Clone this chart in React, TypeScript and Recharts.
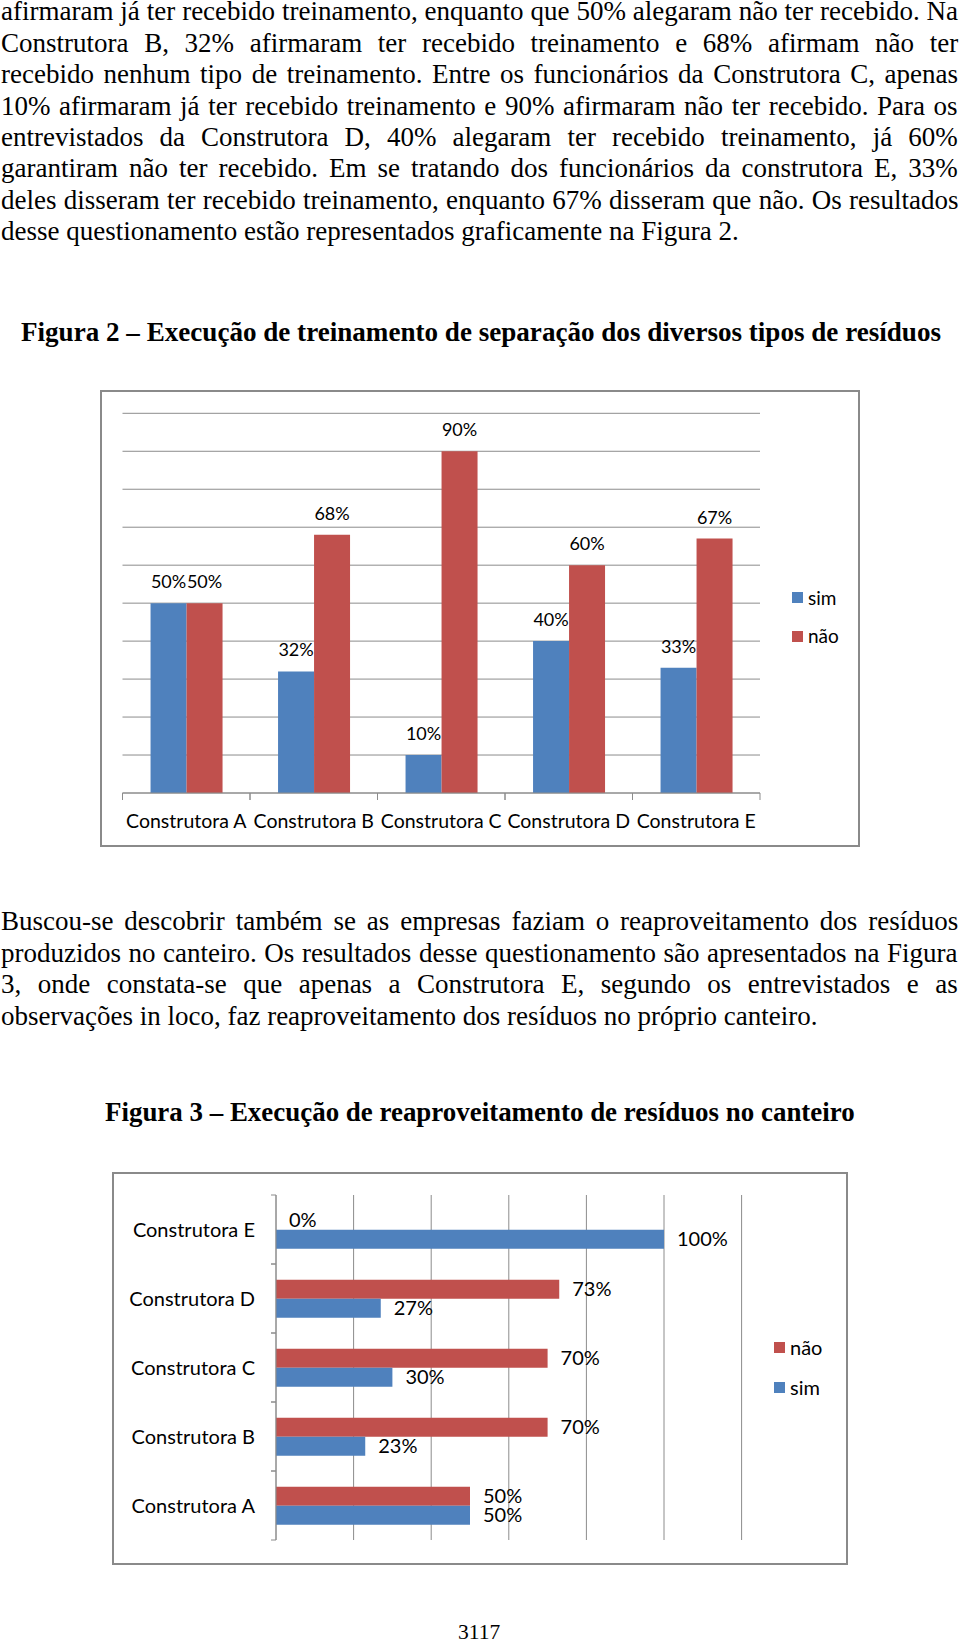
import React, { useLayoutEffect, useRef, useState } from 'react';
import { BarChart, Bar, XAxis, YAxis, CartesianGrid, Legend, LabelList } from 'recharts';

// page text
const paragraph1 = [
  'afirmaram já ter recebido treinamento, enquanto que 50% alegaram não ter recebido. Na',
  'Construtora B, 32% afirmaram ter recebido treinamento e 68% afirmam não ter',
  'recebido nenhum tipo de treinamento. Entre os funcionários da Construtora C, apenas',
  '10% afirmaram já ter recebido treinamento e 90% afirmaram não ter recebido. Para os',
  'entrevistados da Construtora D, 40% alegaram ter recebido treinamento, já 60%',
  'garantiram não ter recebido. Em se tratando dos funcionários da construtora E, 33%',
  'deles disseram ter recebido treinamento, enquanto 67% disseram que não. Os resultados',
  'desse questionamento estão representados graficamente na Figura 2.',
];
const paragraph2 = [
  'Buscou-se descobrir também se as empresas faziam o reaproveitamento dos resíduos',
  'produzidos no canteiro. Os resultados desse questionamento são apresentados na Figura',
  '3, onde constata-se que apenas a Construtora E, segundo os entrevistados e as',
  'observações in loco, faz reaproveitamento dos resíduos no próprio canteiro.',
];
const caption2 = 'Figura 2 – Execução de treinamento de separação dos diversos tipos de resíduos';
const caption3 = 'Figura 3 – Execução de reaproveitamento de resíduos no canteiro';
const pageNumber = '3117';

// chart data
const construtoras = ['Construtora A', 'Construtora B', 'Construtora C', 'Construtora D', 'Construtora E'];
const treinamentoSim = [50, 32, 10, 40, 33];
const treinamentoNao = [50, 68, 90, 60, 67];
const reaproveitamentoSim = [50, 23, 30, 27, 100];
const reaproveitamentoNao = [50, 70, 70, 73, 0];
const fig2Ticks = [0, 10, 20, 30, 40, 50, 60, 70, 80, 90, 100];
const fig3Ticks = [0, 20, 40, 60, 80, 100, 120];
const fig2LegendOrder = ['sim', 'não'];
const fig3LegendOrder = ['não', 'sim'];

const fig2Data = construtoras.map((name, i) => ({ name, sim: treinamentoSim[i], nao: treinamentoNao[i] }));
const fig3Data = construtoras.map((name, i) => ({ name, sim: reaproveitamentoSim[i], nao: reaproveitamentoNao[i] }));

const BLUE = '#4F81BD';
const RED = '#C0504D';
const GRID = '#8c8c8c';
const SERIF = "'Liberation Serif', 'Times New Roman', serif";
const SANS = "Lato, 'Open Sans', sans-serif";
const BODY_SIZE = 27;

const FIG2 = { left: 100, top: 390, width: 760, height: 457 };
const FIG2_MARGIN = { top: 23.3, right: 100, bottom: 14, left: 22.5 };
const FIG2_BAND = (FIG2.width - FIG2_MARGIN.left - FIG2_MARGIN.right) / construtoras.length;

const FIG3 = { left: 112, top: 1172, width: 736, height: 393 };
const FIG3_MARGIN = { top: 23, right: 106.4, bottom: 25, left: 0 };
const FIG3_BAND = (FIG3.height - FIG3_MARGIN.top - FIG3_MARGIN.bottom) / construtoras.length;

const pct = (v: any) => `${v}%`;
// zero values still get a (hair-thin) bar so their "0%" label is drawn
const keepZero = (v: any) => (v === 0 ? 0.01 : 0);

type LineProps = {
  text: string;
  left?: number;
  center?: number;
  baseline: number;
  size: number;
  width?: number;
  scale?: number;
  mode?: 'plain' | 'justify' | 'fit';
  bold?: boolean;
};

// one line of page text, positioned by its baseline
const TextLine = ({ text, left = 0, center, baseline, size, width = 0, scale = 1, mode = 'plain', bold }: LineProps) => {
  const ref = useRef<HTMLDivElement>(null);
  const [fit, setFit] = useState({ sx: scale, ws: 0, x: left });

  useLayoutEffect(() => {
    const el = ref.current;
    if (!el) return;
    const natural = el.scrollWidth;
    let sx = scale;
    let ws = 0;
    if (mode === 'fit') sx = width / natural;
    if (mode === 'justify') {
      const spaces = text.split(' ').length - 1;
      ws = (width / sx - natural) / spaces;
    }
    const x = center !== undefined ? center - (natural * sx) / 2 : left;
    setFit({ sx, ws, x });
  }, []);

  return (
    <div
      ref={ref}
      style={{
        position: 'absolute',
        left: fit.x,
        top: baseline - 0.8375 * size,
        fontFamily: SERIF,
        fontSize: size,
        lineHeight: `${size}px`,
        fontWeight: bold ? 'bold' : 'normal',
        whiteSpace: 'nowrap',
        wordSpacing: fit.ws,
        transform: `scaleX(${fit.sx})`,
        transformOrigin: '0 0',
        color: '#000',
      }}
    >
      {text}
    </div>
  );
};

const Fig2Tick = (props: any) => {
  const { x, y, payload } = props;
  const half = FIG2_BAND / 2;
  return (
    <g>
      <line x1={x - half} x2={x - half} y1={y} y2={y + 7} stroke={GRID} />
      <line x1={x + half} x2={x + half} y1={y} y2={y + 7} stroke={GRID} />
      <text x={x} y={y + 35} textAnchor="middle" fontFamily={SANS} fontSize={19.5} fill="#000">
        {payload.value}
      </text>
    </g>
  );
};

const Fig3Tick = (props: any) => {
  const { x, y, payload } = props;
  const half = FIG3_BAND / 2;
  return (
    <g>
      <line x1={x - 5} x2={x} y1={y - half} y2={y - half} stroke={GRID} />
      <line x1={x - 5} x2={x} y1={y + half} y2={y + half} stroke={GRID} />
      <text x={x - 21} y={y + 7.5} textAnchor="end" fontFamily={SANS} fontSize={20} fill="#000">
        {payload.value}
      </text>
    </g>
  );
};

const makeLegend = (order: string[], fontSize: number, gap: number) => (props: any) => {
  const items = [...(props.payload || [])].sort((a: any, b: any) => order.indexOf(a.value) - order.indexOf(b.value));
  return (
    <div style={{ fontFamily: SANS, fontSize, color: '#000' }}>
      {items.map((item: any) => (
        <div key={item.value} style={{ display: 'flex', alignItems: 'center', height: 24, marginBottom: gap }}>
          <span style={{ display: 'inline-block', width: 11, height: 11, background: item.color, marginRight: 5 }} />
          <span style={{ lineHeight: '24px' }}>{item.value}</span>
        </div>
      ))}
    </div>
  );
};

const frameStyle = (f: { left: number; top: number; width: number; height: number }): React.CSSProperties => ({
  position: 'absolute',
  left: f.left,
  top: f.top,
  width: f.width,
  height: f.height,
  border: '2px solid #8a8a8a',
  boxSizing: 'border-box',
});

const TrainingChart = () => (
  <div style={{ position: 'absolute', left: FIG2.left, top: FIG2.top }}>
    <BarChart width={FIG2.width} height={FIG2.height} data={fig2Data} margin={FIG2_MARGIN} barCategoryGap="22%" barGap={0}>
      <CartesianGrid vertical={false} stroke={GRID} />
      <XAxis dataKey="name" height={40} interval={0} axisLine={{ stroke: GRID }} tickLine={false} tickSize={0} tickMargin={0} tick={Fig2Tick} />
      <YAxis hide domain={[0, 100]} ticks={fig2Ticks} />
      <Bar dataKey="sim" name="sim" fill={BLUE} isAnimationActive={false}>
        <LabelList dataKey="sim" position="top" offset={15} formatter={pct} fill="#000" fontSize={18} fontFamily={SANS} />
      </Bar>
      <Bar dataKey="nao" name="não" fill={RED} isAnimationActive={false}>
        <LabelList dataKey="nao" position="top" offset={15} formatter={pct} fill="#000" fontSize={18} fontFamily={SANS} />
      </Bar>
      <Legend
        layout="horizontal"
        align="center"
        verticalAlign="middle"
        wrapperStyle={{ left: 692, top: 195.6, width: 90 }}
        content={makeLegend(fig2LegendOrder, 19, 14.5)}
      />
    </BarChart>
  </div>
);

const ReuseChart = () => (
  <div style={{ position: 'absolute', left: FIG3.left, top: FIG3.top }}>
    <BarChart layout="vertical" width={FIG3.width} height={FIG3.height} data={fig3Data} margin={FIG3_MARGIN} barCategoryGap="23%" barGap={0}>
      <CartesianGrid horizontal={false} stroke={GRID} />
      <XAxis type="number" hide domain={[0, 120]} ticks={fig3Ticks} />
      <YAxis
        type="category"
        dataKey="name"
        reversed
        width={164}
        interval={0}
        axisLine={{ stroke: GRID }}
        tickLine={false}
        tickSize={0}
        tickMargin={0}
        tick={Fig3Tick}
      />
      <Bar dataKey="nao" name="não" fill={RED} minPointSize={keepZero} isAnimationActive={false}>
        <LabelList dataKey="nao" position="right" offset={13} formatter={pct} fill="#000" fontSize={20} fontFamily={SANS} />
      </Bar>
      <Bar dataKey="sim" name="sim" fill={BLUE} minPointSize={keepZero} isAnimationActive={false}>
        <LabelList dataKey="sim" position="right" offset={13} formatter={pct} fill="#000" fontSize={20} fontFamily={SANS} />
      </Bar>
      <Legend
        layout="horizontal"
        align="center"
        verticalAlign="middle"
        wrapperStyle={{ left: 662, top: 163.3, width: 70 }}
        content={makeLegend(fig3LegendOrder, 20, 16)}
      />
    </BarChart>
  </div>
);

export default function App() {
  return (
    <div style={{ position: 'absolute', left: 0, top: 0, width: 960, height: 1643, background: '#fff', overflow: 'hidden' }}>
      {paragraph1.map((line, i) => (
        <TextLine
          key={`p1-${i}`}
          text={line}
          left={1}
          baseline={21 + i * 31.4}
          size={BODY_SIZE}
          width={957}
          mode={i === paragraph1.length - 1 ? 'plain' : 'justify'}
        />
      ))}
      <TextLine text={caption2} left={21} baseline={342} size={27} width={920} mode="fit" bold />
      <div style={frameStyle(FIG2)} />
      <TrainingChart />
      {paragraph2.map((line, i) => (
        <TextLine
          key={`p2-${i}`}
          text={line}
          left={1}
          baseline={931 + i * 31.45}
          size={BODY_SIZE}
          width={957}
          mode={i === paragraph2.length - 1 ? 'plain' : 'justify'}
        />
      ))}
      <TextLine text={caption3} left={105} baseline={1122} size={27} width={750} mode="fit" bold />
      <div style={frameStyle(FIG3)} />
      <ReuseChart />
      <TextLine text={pageNumber} center={479} baseline={1640} size={21.5} />
    </div>
  );
}
